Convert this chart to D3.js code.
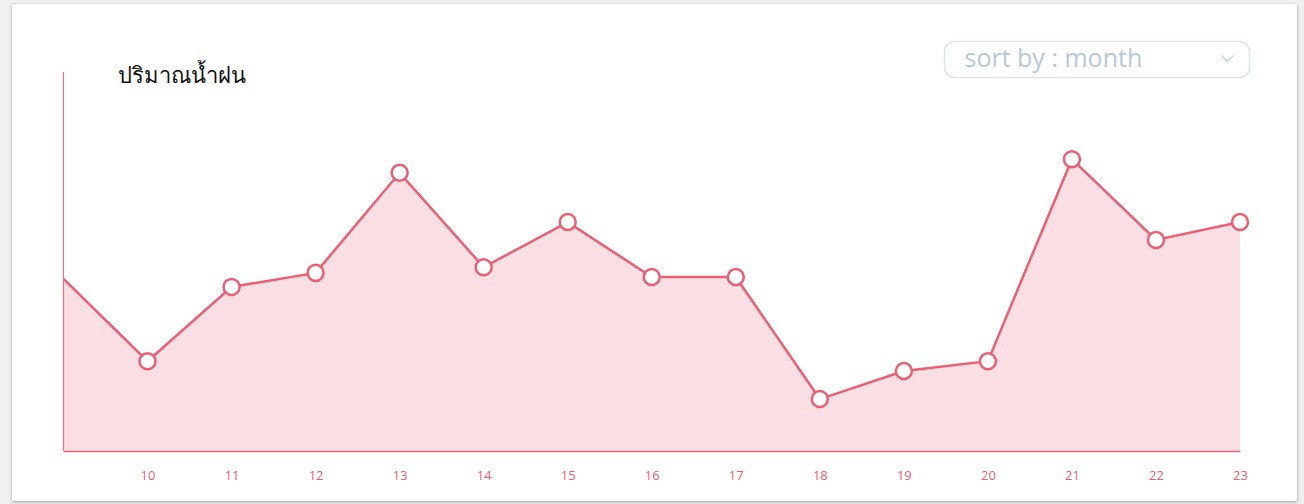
<!DOCTYPE html>
<html>
<head>
<meta charset="utf-8">
<script src="https://cdn.jsdelivr.net/npm/d3@7"></script>
<style>
  body { margin: 0; background: #f0f0f0; width: 1304px; height: 504px; overflow: hidden; }
  .card {
    position: absolute; left: 12px; top: 4px; width: 1285px; height: 497px;
    background: #fff; box-shadow: 0 1px 3px rgba(0,0,0,0.35);
  }
  svg { position: absolute; left: 0; top: 0; }
</style>
</head>
<body>
<div class="card"></div>
<svg width="1304" height="504"></svg>
<script>
// rain amount by day
var days = [9, 10, 11, 12, 13, 14, 15, 16, 17, 18, 19, 20, 21, 22, 23];
var rain = [45.4, 23.7, 43.3, 47.0, 73.4, 48.5, 60.4, 45.9, 45.9, 13.7, 21.1, 23.7, 77.0, 55.7, 60.4];
var tickDays = [10, 11, 12, 13, 14, 15, 16, 17, 18, 19, 20, 21, 22, 23];
var title = "ปริมาณน้ำฝน";
var sortLabel = "sort by : month";

var data = days.map(function(d, i) { return { day: d, value: rain[i] }; });

var svg = d3.select("svg");
var pink = "#ec5f73";

var x = d3.scaleLinear().domain([9, 23]).range([63.5, 1240]);
var y = d3.scaleLinear().domain([0, 100]).range([451, 72]);

// area
var area = d3.area()
  .x(function(d) { return x(d.day); })
  .y0(y(0))
  .y1(function(d) { return y(d.value); });

svg.append("path")
  .datum(data)
  .attr("d", area)
  .attr("fill", "#fbdfe4");

// line
var line = d3.line()
  .x(function(d) { return x(d.day); })
  .y(function(d) { return y(d.value); });

svg.append("path")
  .datum(data)
  .attr("d", line)
  .attr("fill", "none")
  .attr("stroke", pink)
  .attr("stroke-width", 2.5);

// left axis line
svg.append("line")
  .attr("x1", x(9)).attr("x2", x(9))
  .attr("y1", y(100)).attr("y2", y(0))
  .attr("stroke", "#e8707f")
  .attr("stroke-width", 1.2);

// bottom axis
var xAxis = d3.axisBottom(x)
  .tickValues(tickDays)
  .tickSize(0)
  .tickPadding(20)
  .tickFormat(d3.format("d"));

var gx = svg.append("g")
  .attr("transform", "translate(0," + y(0) + ")")
  .call(xAxis);
gx.select(".domain").attr("stroke", pink).attr("stroke-width", 1.5);
gx.selectAll("text")
  .attr("fill", pink)
  .style("font-family", "'Open Sans', 'Noto Sans', sans-serif")
  .style("font-size", "13px");

// points (skip the first one)
svg.selectAll("circle.pt")
  .data(data.slice(1))
  .enter()
  .append("circle")
  .attr("class", "pt")
  .attr("cx", function(d) { return x(d.day); })
  .attr("cy", function(d) { return y(d.value); })
  .attr("r", 8)
  .attr("fill", "#fff")
  .attr("stroke", pink)
  .attr("stroke-width", 2.5);

// title
svg.append("text")
  .attr("x", 118)
  .attr("y", 83)
  .attr("fill", "#111")
  .style("font-family", "'Noto Sans', 'DejaVu Sans', sans-serif")
  .style("font-size", "22px")
  .style("font-weight", 500)
  .text(title);

// sort dropdown
var dd = svg.append("g").attr("transform", "translate(944.5,41.5)");
dd.append("rect")
  .attr("width", 305)
  .attr("height", 36)
  .attr("rx", 10)
  .attr("fill", "#fff")
  .attr("stroke", "#dbe4ee")
  .attr("stroke-width", 1.5);
dd.append("text")
  .attr("x", 20)
  .attr("y", 25)
  .attr("fill", "#b7c7d6")
  .style("font-family", "'Open Sans', 'Noto Sans', sans-serif")
  .style("font-size", "25px")
  .text(sortLabel);
dd.append("path")
  .attr("d", "M277,14 L283,20 L289,14")
  .attr("fill", "none")
  .attr("stroke", "#c3d0dd")
  .attr("stroke-width", 1.3);
</script>
</body>
</html>
